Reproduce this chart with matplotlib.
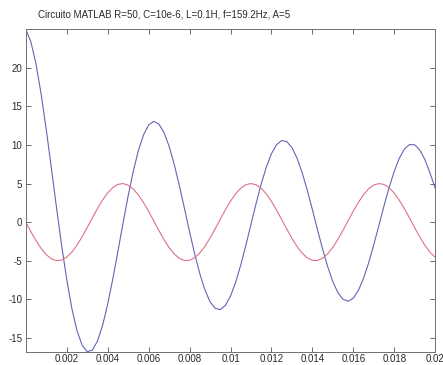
import numpy as np
import matplotlib
matplotlib.use("Agg")
import matplotlib.pyplot as plt

plt.rcParams['font.family'] = ['Liberation Sans', 'DejaVu Sans']

title = "Circuito MATLAB R=50, C=10e-6, L=0.1H, f=159.2Hz, A=5"

# time samples (s), step 0.00025
t_step = 0.00025
n_pts = 81

# source voltage (red)
source_v = [0.00, -1.24, -2.40, -3.41, -4.21, -4.75, -4.99, -4.92, -4.55, -3.89,
            -2.99, -1.91, -0.71, 0.54, 1.75, 2.86, 3.78, 4.48, 4.89, 5.00,
            4.79, 4.29, 3.53, 2.54, 1.40, 0.17, -1.08, -2.25, -3.29, -4.12,
            -4.69, -4.98, -4.95, -4.62, -4.00, -3.13, -2.06, -0.87, 0.38, 1.60,
            2.72, 3.68, 4.40, 4.85, 5.00, 4.84, 4.38, 3.65, 2.69, 1.56,
            0.33, -0.91, -2.10, -3.16, -4.02, -4.63, -4.95, -4.97, -4.67, -4.09,
            -3.25, -2.21, -1.03, 0.21, 1.44, 2.58, 3.56, 4.32, 4.81, 5.00,
            4.88, 4.46, 3.75, 2.82, 1.71, 0.50, -0.75, -1.95, -3.03, -3.92,
            -4.57]

# circuit response (blue)
response_v = [25.00, 23.37, 20.50, 16.62, 12.02, 7.02, 1.93, -2.97, -7.41, -11.16,
              -14.04, -15.93, -16.79, -16.60, -15.43, -13.40, -10.65, -7.38, -3.81, -0.14,
              3.39, 6.58, 9.27, 11.29, 12.58, 13.06, 12.72, 11.62, 9.84, 7.50,
              4.76, 1.79, -1.24, -4.11, -6.67, -8.78, -10.32, -11.17, -11.34, -10.79,
              -9.59, -7.81, -5.56, -3.00, -0.29, 2.42, 4.95, 7.14, 8.87, 10.04,
              10.57, 10.43, 9.66, 8.28, 6.40, 4.13, 1.62, -0.99, -3.51, -5.80,
              -7.73, -9.16, -10.02, -10.25, -9.85, -8.83, -7.26, -5.25, -2.91, -0.40,
              2.13, 4.52, 6.62, 8.31, 9.49, 10.06, 10.01, 9.33, 8.07, 6.31,
              4.40]

x_ticks = [0.002, 0.004, 0.006, 0.008, 0.01, 0.012, 0.014, 0.016, 0.018, 0.02]
x_tick_labels = ["0.002", "0.004", "0.006", "0.008", "0.01", "0.012", "0.014",
                 "0.016", "0.018", "0.02"]
y_ticks = [-15, -10, -5, 0, 5, 10, 15, 20]
y_tick_labels = ["-15", "-10", "-5", "0", "5", "10", "15", "20"]

t = np.arange(n_pts) * t_step

fig = plt.figure(figsize=(4.43, 3.65), dpi=100)
ax = fig.add_axes([25.75 / 443, 13.3 / 365, 409.5 / 443, 322.5 / 365])

ax.plot(t, response_v, color='#6464b8', lw=0.8)
ax.plot(t, source_v, color='#e07088', lw=0.8)

ax.set_xlim(0, 0.02)
ax.set_ylim(min(response_v), max(response_v))
ax.set_xticks(x_ticks)
ax.set_xticklabels(x_tick_labels)
ax.set_yticks(y_ticks)
ax.set_yticklabels(y_tick_labels)

ax.tick_params(direction='in', length=3.5, width=0.6, colors='#505050',
               labelsize=7, top=True, right=True, pad=2.5)
ax.tick_params(axis='x', pad=2)
for lab in ax.get_xticklabels() + ax.get_yticklabels():
    lab.set_color('#2a2a2a')
for sp in ax.spines.values():
    sp.set_color('#707070')
    sp.set_linewidth(0.7)

fig.text(38 / 443, 1 - 14.5 / 365, title, fontsize=7, ha='left', va='center',
         color='#2a2a2a')

fig.savefig("out.png", dpi=100)
